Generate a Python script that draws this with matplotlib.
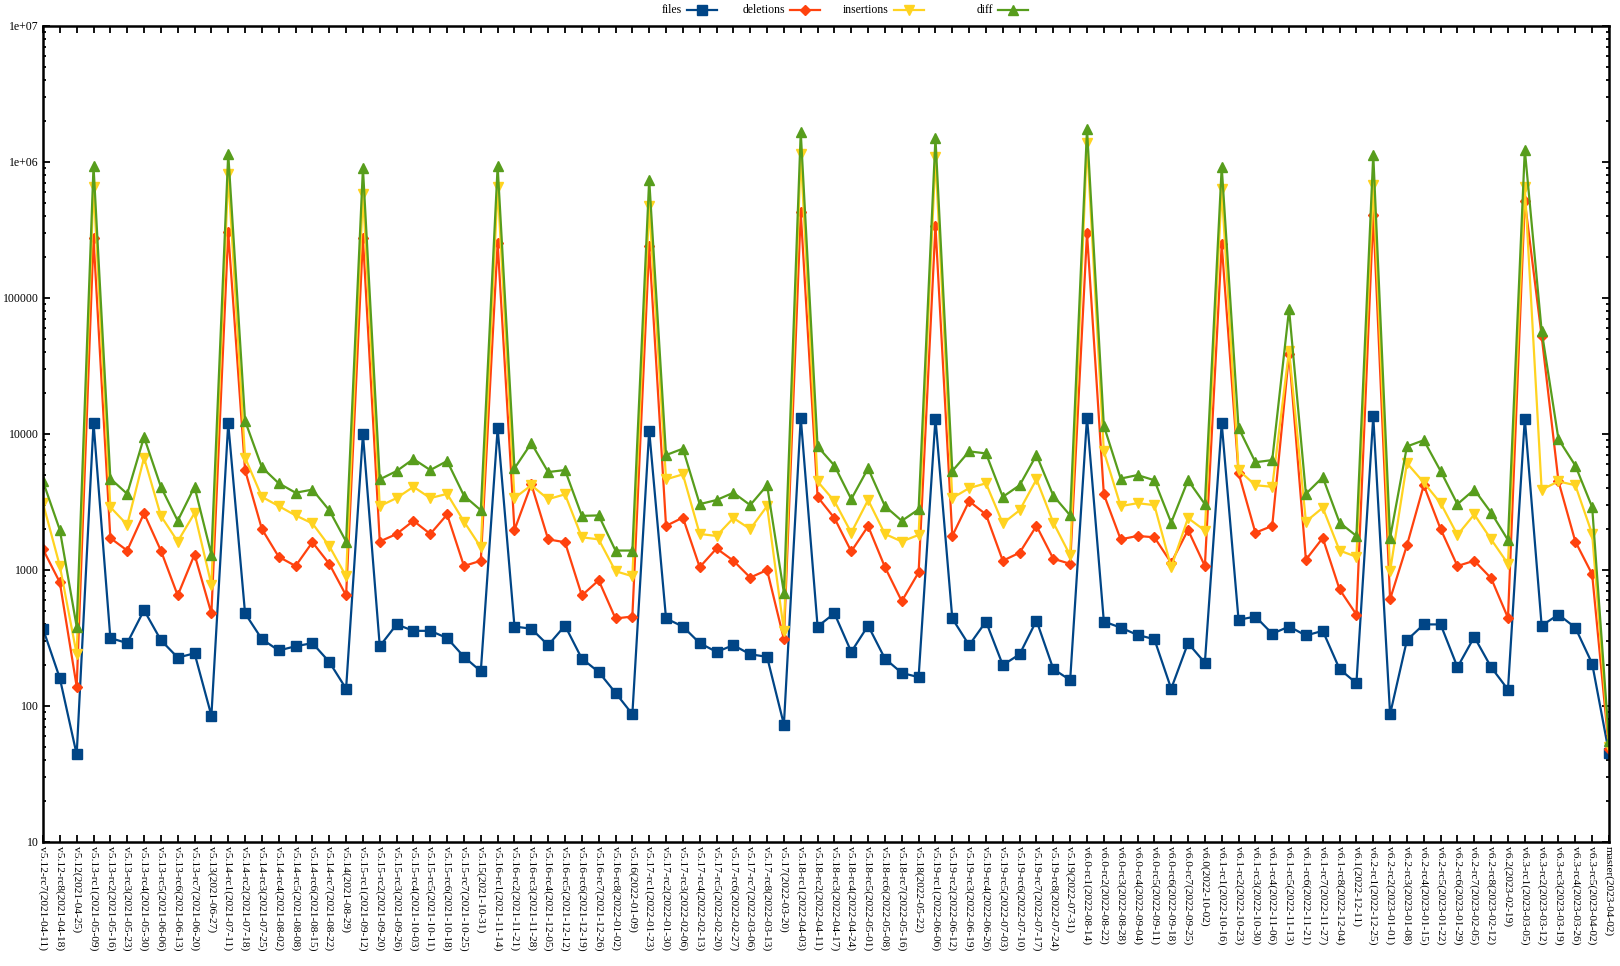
import numpy as np
import matplotlib
matplotlib.use("Agg")
import matplotlib.pyplot as plt
from matplotlib.lines import Line2D
from matplotlib.ticker import FixedLocator, LogLocator, NullFormatter

plt.rcParams["font.family"] = ["Liberation Serif", "DejaVu Serif"]

tags = [
    "v5.12-rc7(2021-04-11)", "v5.12-rc8(2021-04-18)", "v5.12(2021-04-25)",
    "v5.13-rc1(2021-05-09)", "v5.13-rc2(2021-05-16)", "v5.13-rc3(2021-05-23)",
    "v5.13-rc4(2021-05-30)", "v5.13-rc5(2021-06-06)", "v5.13-rc6(2021-06-13)",
    "v5.13-rc7(2021-06-20)", "v5.13(2021-06-27)",
    "v5.14-rc1(2021-07-11)", "v5.14-rc2(2021-07-18)", "v5.14-rc3(2021-07-25)",
    "v5.14-rc4(2021-08-02)", "v5.14-rc5(2021-08-08)", "v5.14-rc6(2021-08-15)",
    "v5.14-rc7(2021-08-22)", "v5.14(2021-08-29)",
    "v5.15-rc1(2021-09-12)", "v5.15-rc2(2021-09-20)", "v5.15-rc3(2021-09-26)",
    "v5.15-rc4(2021-10-03)", "v5.15-rc5(2021-10-11)", "v5.15-rc6(2021-10-18)",
    "v5.15-rc7(2021-10-25)", "v5.15(2021-10-31)",
    "v5.16-rc1(2021-11-14)", "v5.16-rc2(2021-11-21)", "v5.16-rc3(2021-11-28)",
    "v5.16-rc4(2021-12-05)", "v5.16-rc5(2021-12-12)", "v5.16-rc6(2021-12-19)",
    "v5.16-rc7(2021-12-26)", "v5.16-rc8(2022-01-02)", "v5.16(2022-01-09)",
    "v5.17-rc1(2022-01-23)", "v5.17-rc2(2022-01-30)", "v5.17-rc3(2022-02-06)",
    "v5.17-rc4(2022-02-13)", "v5.17-rc5(2022-02-20)", "v5.17-rc6(2022-02-27)",
    "v5.17-rc7(2022-03-06)", "v5.17-rc8(2022-03-13)", "v5.17(2022-03-20)",
    "v5.18-rc1(2022-04-03)", "v5.18-rc2(2022-04-11)", "v5.18-rc3(2022-04-17)",
    "v5.18-rc4(2022-04-24)", "v5.18-rc5(2022-05-01)", "v5.18-rc6(2022-05-08)",
    "v5.18-rc7(2022-05-16)", "v5.18(2022-05-22)",
    "v5.19-rc1(2022-06-06)", "v5.19-rc2(2022-06-12)", "v5.19-rc3(2022-06-19)",
    "v5.19-rc4(2022-06-26)", "v5.19-rc5(2022-07-03)", "v5.19-rc6(2022-07-10)",
    "v5.19-rc7(2022-07-17)", "v5.19-rc8(2022-07-24)", "v5.19(2022-07-31)",
    "v6.0-rc1(2022-08-14)", "v6.0-rc2(2022-08-22)", "v6.0-rc3(2022-08-28)",
    "v6.0-rc4(2022-09-04)", "v6.0-rc5(2022-09-11)", "v6.0-rc6(2022-09-18)",
    "v6.0-rc7(2022-09-25)", "v6.0(2022-10-02)",
    "v6.1-rc1(2022-10-16)", "v6.1-rc2(2022-10-23)", "v6.1-rc3(2022-10-30)",
    "v6.1-rc4(2022-11-06)", "v6.1-rc5(2022-11-13)", "v6.1-rc6(2022-11-21)",
    "v6.1-rc7(2022-11-27)", "v6.1-rc8(2022-12-04)", "v6.1(2022-12-11)",
    "v6.2-rc1(2022-12-25)", "v6.2-rc2(2023-01-01)", "v6.2-rc3(2023-01-08)",
    "v6.2-rc4(2023-01-15)", "v6.2-rc5(2023-01-22)", "v6.2-rc6(2023-01-29)",
    "v6.2-rc7(2023-02-05)", "v6.2-rc8(2023-02-12)", "v6.2(2023-02-19)",
    "v6.3-rc1(2023-03-05)", "v6.3-rc2(2023-03-12)", "v6.3-rc3(2023-03-19)",
    "v6.3-rc4(2023-03-26)", "v6.3-rc5(2023-04-02)", "master(2023-04-02)",
]

files = [370, 160, 44, 12100, 316, 290, 507, 305, 227, 244, 85,
         12000, 480, 310, 256, 275, 290, 211, 134,
         10000, 275, 398, 357, 357, 316, 230, 180,
         11000, 384, 370, 280, 390, 223, 178, 125, 87,
         10600, 440, 384, 290, 250, 280, 240, 230, 73,
         13200, 384, 480, 250, 390, 223, 175, 163,
         13000, 440, 280, 418, 200, 240, 425, 187, 155,
         13200, 418, 377, 333, 310, 134, 290, 208,
         12000, 430, 455, 340, 384, 330, 357, 187, 147,
         13500, 87, 305, 398, 398, 193, 322, 193, 132,
         13000, 390, 470, 377, 205, 45]

deletions = [1420, 811, 139, 275000, 1718, 1390, 2610, 1390, 650, 1300, 480,
             305000, 5430, 2000, 1250, 1070, 1600, 1110, 650,
             275000, 1620, 1840, 2300, 1840, 2560, 1070, 1170,
             255000, 1970, 4270, 1680, 1600, 650, 840, 440, 455,
             240000, 2110, 2430, 1050, 1440, 1170, 880, 1000, 310,
             426000, 3450, 2410, 1370, 2100, 1050, 590, 960,
             340000, 1780, 3210, 2560, 1170, 1340, 2110, 1210, 1110,
             300000, 3600, 1680, 1780, 1740, 1130, 1970, 1070,
             248000, 5170, 1880, 2110, 39000, 1190, 1720, 720, 470,
             411000, 610, 1520, 4200, 2000, 1070, 1170, 870, 445,
             515000, 52500, 4480, 1620, 930, 48]

insertions = [3100, 1070, 240, 658000, 2900, 2150, 6700, 2500, 1620, 2620, 780,
              810000, 6700, 3450, 2950, 2520, 2200, 1500, 900,
              582000, 2950, 3380, 4090, 3380, 3630, 2270, 1470,
              658000, 3380, 4200, 3320, 3600, 1740, 1680, 980, 900,
              472000, 4640, 5050, 1840, 1780, 2410, 2000, 2950, 357,
              1150000, 4480, 3210, 1880, 3270, 1840, 1620, 1810,
              1090000, 3380, 4000, 4340, 2200, 2750, 4640, 2230, 1280,
              1370000, 7450, 2950, 3100, 3000, 1050, 2410, 1950,
              630000, 5430, 4200, 4090, 41100, 2270, 2870, 1390, 1250,
              681000, 980, 6100, 4400, 3100, 1810, 2560, 1680, 1110,
              660000, 3900, 4480, 4200, 1840, 50]

diff = [4480, 1970, 383, 930000, 4700, 3630, 9490, 4090, 2300, 4090, 1300,
        1150000, 12500, 5690, 4340, 3700, 3900, 2750, 1620,
        900000, 4640, 5340, 6550, 5430, 6330, 3520, 2750,
        930000, 5590, 8560, 5250, 5430, 2500, 2520, 1390, 1390,
        743000, 7000, 7800, 3050, 3270, 3700, 3000, 4200, 680,
        1660000, 8100, 5860, 3320, 5590, 2950, 2300, 2790,
        1500000, 5340, 7450, 7200, 3450, 4200, 7000, 3520, 2520,
        1740000, 11500, 4700, 4990, 4570, 2230, 4570, 3050,
        920000, 11100, 6200, 6430, 82600, 3630, 4810, 2230, 1780,
        1130000, 1720, 8100, 9000, 5340, 3050, 3900, 2640, 1660,
        1230000, 57300, 9150, 5860, 2900, 55]

series = [
    ("files", files, "#004586", "s", 6.5),
    ("deletions", deletions, "#ff420e", "D", 5.5),
    ("insertions", insertions, "#ffd320", "v", 7),
    ("diff", diff, "#579d1c", "^", 7),
]

fig = plt.figure(figsize=(16.2, 9.66), dpi=100)
ax = fig.add_axes([43 / 1620, 1 - 842 / 966, (1609 - 43) / 1620, (842 - 26) / 966])

x = np.arange(len(tags))
for name, vals, c, mk, ms in series:
    ax.plot(x, vals, color=c, lw=1.6, marker=mk, ms=ms, mec=c, mfc=c)

ax.set_yscale("log")
ax.set_ylim(10, 1e7)
ax.set_xlim(0, len(tags) - 1)
ax.yaxis.set_major_locator(FixedLocator([10, 100, 1000, 1e4, 1e5, 1e6, 1e7]))
ax.set_yticklabels(["10", "100", "1000", "10000", "100000", "1e+06", "1e+07"], fontsize=8.5)
ax.yaxis.set_minor_locator(LogLocator(base=10, subs=np.arange(2, 10)))
ax.yaxis.set_minor_formatter(NullFormatter())
ax.set_xticks(x)
ax.set_xticklabels(tags, rotation=-90, fontsize=8.2, ha="center", va="top")

ax.tick_params(which="both", direction="in", top=True, right=True, width=1.3)
ax.tick_params(which="major", length=5, pad=3)
ax.tick_params(which="minor", length=2.5)
for s in ax.spines.values():
    s.set_linewidth(1.8)

# gnuplot-style key: label then sample, across the top
ky = 1 - 10 / 966
for i, (name, vals, c, mk, ms) in enumerate(series):
    xe = [682, 785, 889, 993][i] / 1620
    fig.text(xe, ky, name, ha="right", va="center", fontsize=8.5)
    x0, x1 = xe + 5 / 1620, xe + 35 / 1620
    fig.add_artist(Line2D([x0, x1], [ky, ky], color=c, lw=1.6,
                          transform=fig.transFigure))
    fig.add_artist(Line2D([(x0 + x1) / 2], [ky], color=c, marker=mk, ms=ms,
                          mec=c, mfc=c, transform=fig.transFigure))

fig.savefig("out.png", dpi=100)
